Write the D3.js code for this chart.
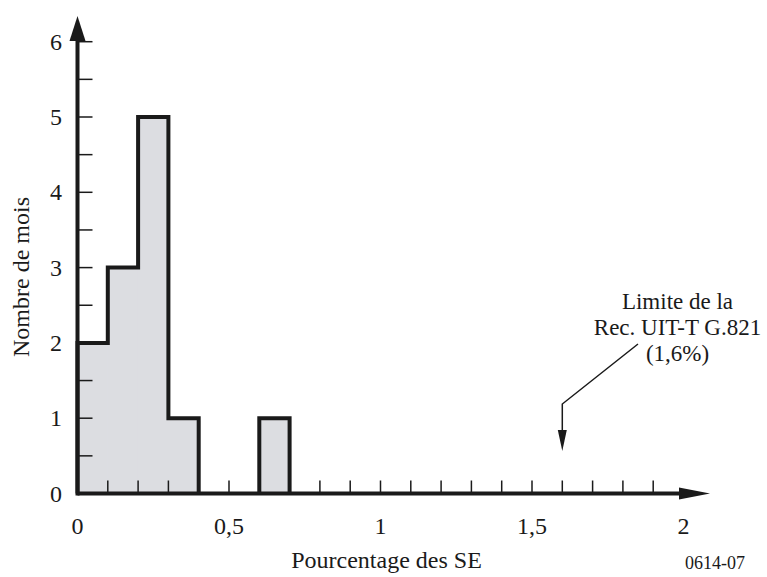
<!DOCTYPE html>
<html><head><meta charset="utf-8">
<script src="https://cdn.jsdelivr.net/npm/d3@7"></script>
<style>body{margin:0;background:#fff}svg{display:block}text{font-family:"Liberation Serif","Times New Roman",serif;fill:#1a1a1a}</style>
</head><body>
<svg id="c" width="767" height="577"></svg>
<script>
// Data
const binStarts = [0, 0.1, 0.2, 0.3, 0.6];
const binWidth = 0.1;
const counts = [2, 3, 5, 1, 1];
const xTickLabels = [[0,"0"],[0.5,"0,5"],[1,"1"],[1.5,"1,5"],[2,"2"]];
const yTickLabels = [0,1,2,3,4,5,6];
const limitValue = 1.6;
const annotationLines = ["Limite de la","Rec. UIT-T G.821","(1,6%)"];

const svg = d3.select("#c");
const x = d3.scaleLinear().domain([0,2]).range([77.5,683.5]);
const y = d3.scaleLinear().domain([0,6]).range([493.5,41.7]);
const ink = "#1a1a1a";

// bars fill
const bins = binStarts.map((s,i)=>({x0:s,x1:s+binWidth,v:counts[i]}));
svg.append("g").selectAll("rect").data(bins).join("rect")
  .attr("x",d=>x(d.x0)).attr("y",d=>y(d.v))
  .attr("width",d=>x(d.x1)-x(d.x0)).attr("height",d=>y(0)-y(d.v))
  .attr("fill","#dcdde1").attr("stroke","#dcdde1").attr("stroke-width",1);

// axis ticks (thin)
const xt = d3.range(1,20).map(i=>i/10);
svg.append("g").selectAll("line").data(xt).join("line")
  .attr("x1",d=>x(d)).attr("x2",d=>x(d)).attr("y1",y(0)).attr("y2",y(0)-13)
  .attr("stroke",ink).attr("stroke-width",1.5);
const yt = d3.range(1,13).map(i=>i/2);
svg.append("g").selectAll("line").data(yt).join("line")
  .attr("x1",x(0)).attr("x2",x(0)+15).attr("y1",d=>y(d)).attr("y2",d=>y(d))
  .attr("stroke",ink).attr("stroke-width",1.5);

// outline of contiguous runs
const runs = [];
bins.forEach(b=>{
  const last = runs[runs.length-1];
  if(last && Math.abs(last[last.length-1].x1-b.x0)<1e-9) last.push(b); else runs.push([b]);
});
runs.forEach(r=>{
  const p = d3.path();
  p.moveTo(x(r[0].x0), y(0));
  r.forEach(b=>{ p.lineTo(x(b.x0), y(b.v)); p.lineTo(x(b.x1), y(b.v)); });
  p.lineTo(x(r[r.length-1].x1), y(0));
  svg.append("path").attr("d",p.toString()).attr("fill","none")
    .attr("stroke",ink).attr("stroke-width",4).attr("stroke-linejoin","miter");
});

// axes lines
svg.append("line").attr("x1",x(0)).attr("x2",680).attr("y1",y(0)).attr("y2",y(0)).attr("stroke",ink).attr("stroke-width",4);
svg.append("line").attr("x1",x(0)).attr("x2",x(0)).attr("y1",y(0)+2).attr("y2",38).attr("stroke",ink).attr("stroke-width",4);
svg.append("path").attr("d",`M679,${y(0)-6}L710,${y(0)}L679,${y(0)+6}Z`).attr("fill",ink);
svg.append("path").attr("d",`M${x(0)-8},41L${x(0)},16L${x(0)+8},41Z`).attr("fill",ink);

// tick labels
svg.append("g").selectAll("text").data(xTickLabels).join("text")
  .attr("x",d=>x(d[0])).attr("y",534).attr("text-anchor","middle")
  .attr("font-size",24).text(d=>d[1]);
svg.append("g").selectAll("text").data(yTickLabels).join("text")
  .attr("x",62).attr("y",d=>y(d)+8).attr("text-anchor","end")
  .attr("font-size",24).text(d=>d);

// titles
svg.append("text").attr("x",386.5).attr("y",568).attr("text-anchor","middle").attr("font-size",24).text("Pourcentage des SE");
svg.append("text").attr("transform","translate(29,277) rotate(-90)").attr("text-anchor","middle").attr("font-size",24).text("Nombre de mois");
svg.append("text").attr("x",745).attr("y",569).attr("text-anchor","end").attr("font-size",18).text("0614-07");

// annotation
const ax = x(limitValue);
svg.append("path").attr("d",`M638,344L${ax},404L${ax},432`).attr("fill","none").attr("stroke",ink).attr("stroke-width",1.5);
svg.append("path").attr("d",`M${ax-4.5},430L${ax},451L${ax+4.5},430Z`).attr("fill",ink);
svg.append("g").selectAll("text").data(annotationLines).join("text")
  .attr("x",677.5).attr("y",(d,i)=>309+i*26).attr("text-anchor","middle")
  .attr("font-size",23).text(d=>d);
</script>
</body></html>
